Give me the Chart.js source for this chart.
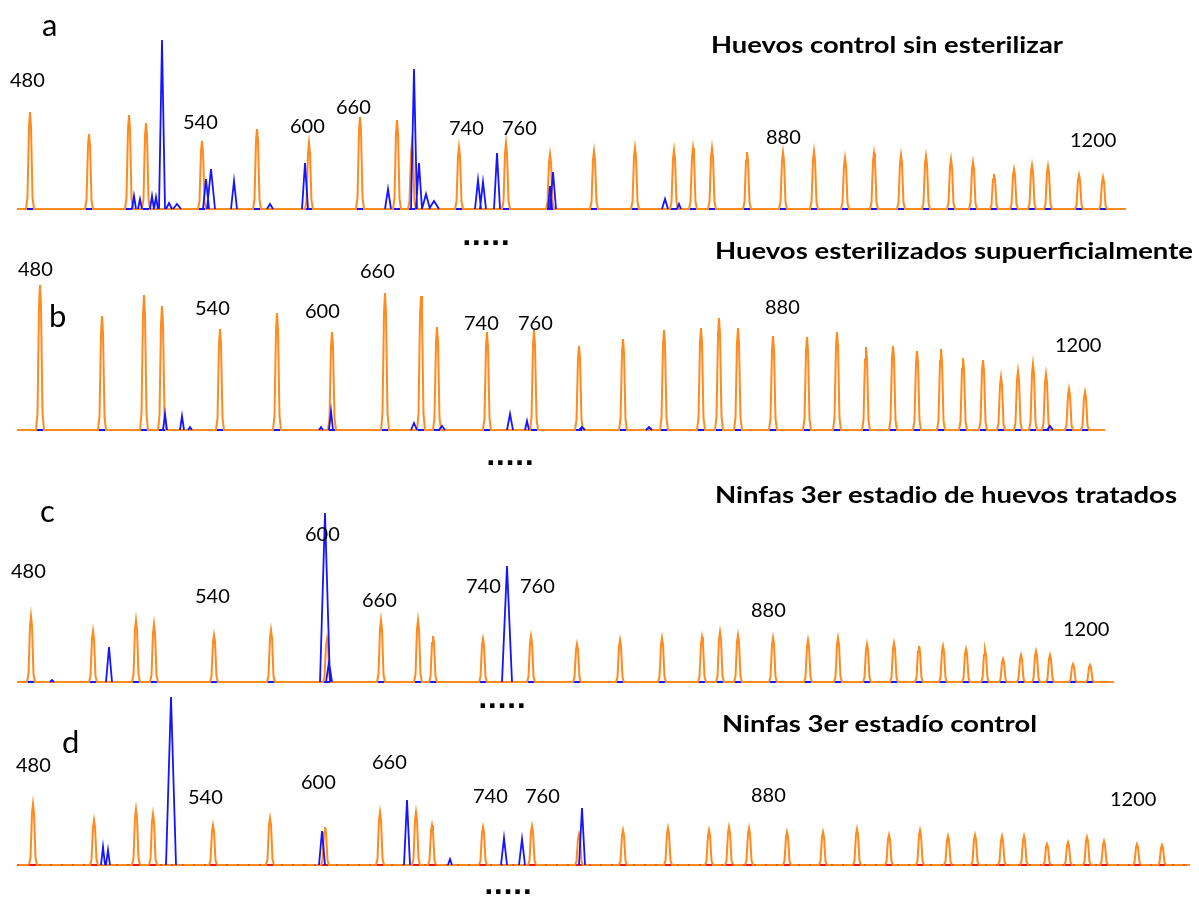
<!DOCTYPE html>
<html><head><meta charset="utf-8">
<script src="https://cdn.jsdelivr.net/npm/chart.js@4/dist/chart.umd.min.js"></script>
<style>
html,body{margin:0;padding:0;background:#fff;}
#wrap{position:relative;width:1199px;height:897px;overflow:hidden;background:#fff;}
canvas{position:absolute;left:0;}
svg{position:absolute;left:0;top:0;}
.num{font-family:Lato,"Open Sans",sans-serif;font-size:20px;fill:#000;}
.ttl{font-family:Lato,"Open Sans",sans-serif;font-size:23px;font-weight:bold;fill:#000;}
.let{font-family:Lato,"Open Sans",sans-serif;font-size:31px;fill:#000;}
.dots{font-family:"DejaVu Sans",sans-serif;font-size:25px;font-weight:bold;fill:#000;}
</style></head><body><div id="wrap">
<canvas id="ca" width="1199" height="230" style="top:0px"></canvas>
<canvas id="cb" width="1199" height="230" style="top:230px"></canvas>
<canvas id="cc" width="1199" height="230" style="top:460px"></canvas>
<canvas id="cd" width="1199" height="207" style="top:690px"></canvas>
<svg id="txt" width="1199" height="897" xmlns="http://www.w3.org/2000/svg"></svg>
</div>
<script>
// ---------- DATA (positions in scan units along the run, heights in signal units) ----------
const ladderLabels = ["480", "540", "600", "660", "740", "760", "880", "1200"];
const panelLetters = ["a", "b", "c", "d"];
const panelTitles = ["Huevos control sin esterilizar", "Huevos esterilizados supuerficialmente", "Ninfas 3er estadio de huevos tratados", "Ninfas 3er estadío control"];

// Panel a
const aRun = [17, 1126];
const aLadderPos = [30, 89, 129, 146, 202, 257, 309, 360, 397, 412, 459, 506, 550, 594, 635, 674, 693, 712, 747, 783, 814, 845, 874, 901, 926, 951, 973, 994, 1014, 1032, 1048, 1079, 1103];
const aLadderHeight = [97, 75, 94, 86, 68, 80, 66, 92, 89, 66, 62, 66, 55, 58, 61, 59, 61, 61, 57, 57, 58, 51, 56, 54, 53, 50, 47, 35, 40, 44, 43, 34, 32];
const aSamplePos = [134, 140, 152, 156, 162, 169, 177, 206, 211, 234, 270, 305, 388, 414, 419, 426, 434, 478, 483, 497, 550, 553, 665, 679];
const aSampleHeight = [13, 10, 13, 12, 169, 6, 5, 30, 40, 28, 5, 46, 20, 140, 46, 15, 8, 29, 27, 56, 23, 37, 10, 5];
const aSampleWidth = [2, 2, 2, 2, 3, 3, 4, 3, 4, 3, 3, 3, 3, 3, 3, 4, 5, 3, 3, 3, 2, 3, 3, 2];

// Panel b
const bRun = [17, 1105];
const bLadderPos = [40, 102, 144, 162, 220, 277, 332, 385, 421, 437, 487, 534, 579, 623, 664, 701, 719, 738, 773, 807, 837, 866, 893, 917, 941, 963, 983, 1001, 1018, 1033, 1046, 1069, 1085];
const bLadderHeight = [145, 114, 135, 124, 101, 117, 98, 137, 134, 103, 98, 100, 84, 91, 100, 102, 112, 102, 94, 93, 98, 83, 84, 79, 81, 72, 70, 53, 59, 66, 56, 41, 38];
const bSamplePos = [165, 182, 190, 321, 331, 414, 442, 510, 527, 582, 649, 1050];
const bSampleHeight = [16, 14, 3, 3, 19, 7, 4, 16, 9, 3, 3, 4];
const bSampleWidth = [2, 2, 2, 2, 2, 3, 3, 3, 2, 3, 3, 3];

// Panel c
const cRun = [17, 1114];
const cLadderPos = [31, 93, 136, 154, 214, 271, 327, 381, 418, 433, 483, 531, 577, 620, 662, 702, 720, 738, 773, 808, 838, 867, 894, 919, 943, 966, 985, 1003, 1021, 1036, 1050, 1073, 1090];
const cLadderHeight = [66, 51, 62, 58, 47, 52, 43, 62, 62, 46, 43, 46, 38, 42, 44, 45, 50, 47, 44, 42, 44, 38, 39, 36, 36, 33, 32, 23, 27, 31, 27, 18, 17];
const cSamplePos = [52, 109, 325, 329, 507];
const cSampleHeight = [2, 35, 169, 20, 116];
const cSampleWidth = [2, 3, 5, 3, 5];

// Panel d
const dRun = [17, 1190];
const dLadderPos = [33, 94, 136, 153, 213, 270, 325, 380, 416, 432, 483, 532, 579, 623, 668, 709, 729, 749, 787, 823, 857, 889, 920, 948, 975, 1002, 1024, 1047, 1068, 1087, 1104, 1137, 1162];
const dLadderHeight = [61, 45, 56, 51, 40, 47, 38, 53, 53, 40, 38, 39, 31, 35, 37, 35, 38, 37, 33, 33, 36, 30, 35, 29, 30, 29, 29, 21, 23, 28, 24, 21, 20];
const dSamplePos = [103, 108, 171, 322, 407, 450, 504, 522, 582];
const dSampleHeight = [18, 15, 168, 34, 65, 6, 27, 26, 57];
const dSampleWidth = [2, 2, 5, 3, 3, 2, 3, 3, 3];

// ---------- LAYOUT / STYLE ----------
const ORANGE = "#ff8a1e";
const BLUE = "#1414ff";
const PEAK_OUTLINE = [[-4, 0], [-2.5, 0.12], [-1, 0.85], [0, 1], [1, 0.85], [2.5, 0.12], [4, 0]];

const panels = [
  {canvas: "ca", run: aRun, lp: aLadderPos, lh: aLadderHeight, sp: aSamplePos, sh: aSampleHeight, sw: aSampleWidth, yMin: -21, yMax: 209, red: false},
  {canvas: "cb", run: bRun, lp: bLadderPos, lh: bLadderHeight, sp: bSamplePos, sh: bSampleHeight, sw: bSampleWidth, yMin: -30, yMax: 200, red: false},
  {canvas: "cc", run: cRun, lp: cLadderPos, lh: cLadderHeight, sp: cSamplePos, sh: cSampleHeight, sw: cSampleWidth, yMin: -8, yMax: 222, red: false},
  {canvas: "cd", run: dRun, lp: dLadderPos, lh: dLadderHeight, sp: dSamplePos, sh: dSampleHeight, sw: dSampleWidth, yMin: -32, yMax: 175, red: true}
];

// text layout: [left x, baseline y]
const labelPlaces = [
  [[10, 87], [183, 129], [290, 133], [336, 114], [449, 135], [502, 135], [766, 144], [1070, 147]],
  [[18, 276], [195, 315], [305, 318], [360, 278], [464, 330], [518, 330], [765, 314], [1055, 352]],
  [[11, 578], [195, 603], [305, 541], [362, 607], [466, 593], [520, 593], [751, 617], [1063, 636]],
  [[16, 772], [188, 804], [301, 789], [372, 769], [473, 803], [525, 803], [751, 802], [1110, 806]]
];
const titlePlaces = [[711, 53, 352], [715, 259, 478], [715, 503, 462], [722, 732, 315]];
const letterPlaces = [[42, 36], [49, 327], [40, 522], [62, 753]];
const dotPlaces = [[462, 245], [486, 465], [478, 708], [484, 894]];

// continuous ladder trace: baseline from run start, each peak outline, baseline to run end
function ladderTrace(run, pos, hts) {
  const pts = [{x: run[0], y: 0}];
  pos.forEach((p, i) => {
    PEAK_OUTLINE.forEach(([dx, f]) => pts.push({x: p + dx, y: hts[i] * f}));
  });
  pts.push({x: run[1], y: 0});
  return pts;
}
// sample peaks: each peak its own segment (peaks may overlap)
function sampleTrace(pos, hts, wid) {
  const pts = [];
  pos.forEach((p, i) => {
    pts.push({x: p - wid[i], y: 0}, {x: p, y: hts[i]}, {x: p + wid[i], y: 0}, {x: p + wid[i] + 0.01, y: null});
  });
  return pts;
}
const flat = run => [{x: run[0], y: 0}, {x: run[1], y: 0}];

panels.forEach(pn => {
  const datasets = [
    {data: sampleTrace(pn.sp, pn.sh, pn.sw), borderColor: BLUE, borderWidth: 1.8}
  ];
  if (pn.red) datasets.push({data: flat(pn.run), borderColor: "rgba(230,30,30,0.7)", borderWidth: 1.6, borderDash: [2, 9]});
  datasets.push({data: ladderTrace(pn.run, pn.lp, pn.lh), borderColor: ORANGE, borderWidth: 2});
  datasets.push({data: flat(pn.run), borderColor: pn.red ? "#e8141e" : BLUE, borderWidth: 2});
  new Chart(document.getElementById(pn.canvas), {
    type: "line",
    data: {datasets: datasets.map(d => Object.assign({pointRadius: 0, tension: 0, spanGaps: false, fill: false}, d))},
    options: {
      responsive: false, animation: false, events: [],
      layout: {padding: 0},
      plugins: {legend: {display: false}, tooltip: {enabled: false}, title: {display: false}},
      scales: {
        x: {type: "linear", min: 0, max: 1199, display: false},
        y: {type: "linear", min: pn.yMin, max: pn.yMax, display: false}
      }
    }
  });
});

// ---------- TEXT ----------
const svg = document.getElementById("txt");
const NS = "http://www.w3.org/2000/svg";
function addText(str, x, y, cls, len) {
  const t = document.createElementNS(NS, "text");
  t.setAttribute("x", x); t.setAttribute("y", y); t.setAttribute("class", cls);
  if (len) { t.setAttribute("textLength", len); t.setAttribute("lengthAdjust", "spacingAndGlyphs"); }
  t.textContent = str;
  svg.appendChild(t);
}
labelPlaces.forEach(list => list.forEach((pl, i) => addText(ladderLabels[i], pl[0], pl[1], "num")));
titlePlaces.forEach((pl, i) => addText(panelTitles[i], pl[0], pl[1], "ttl", pl[2]));
letterPlaces.forEach((pl, i) => addText(panelLetters[i], pl[0], pl[1], "let"));
dotPlaces.forEach(pl => addText(".....", pl[0], pl[1], "dots", 48));
</script>
</body></html>
